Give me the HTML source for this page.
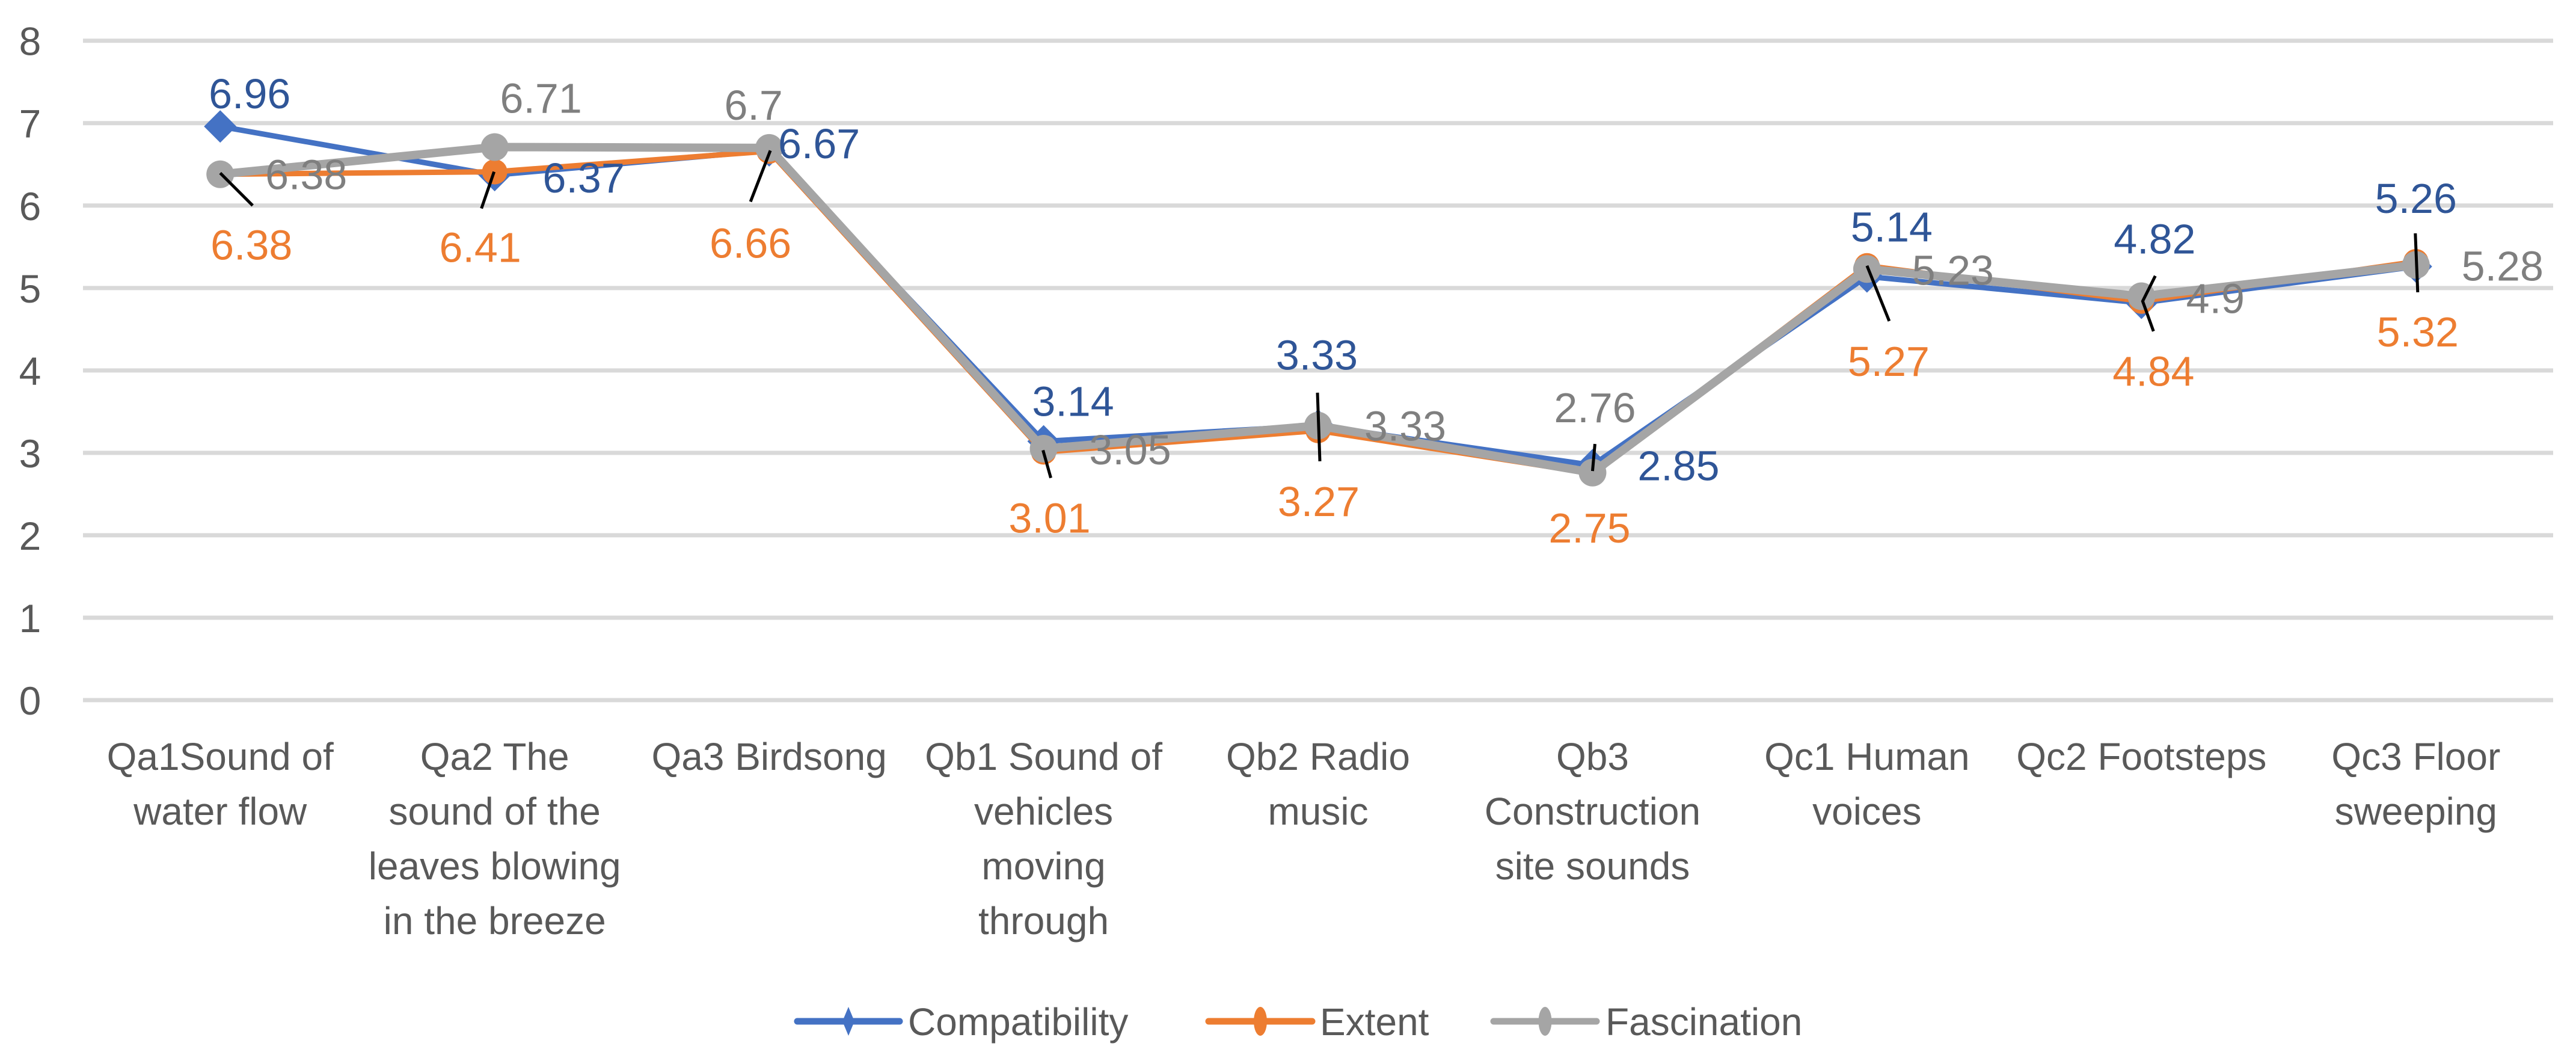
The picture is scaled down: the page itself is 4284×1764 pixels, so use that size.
<!DOCTYPE html>
<html><head><meta charset="utf-8">
<style>
html,body{margin:0;padding:0;background:#fff;}
svg{display:block;font-family:"Liberation Sans",sans-serif;}
</style></head>
<body>
<svg id="chart" width="4284" height="1764" viewBox="0 0 4284 1764" xmlns="http://www.w3.org/2000/svg">
<g id="grid"></g>
<g id="yticks"></g>
<g id="xticks"></g>
<g id="series"></g>
<g id="labels"></g>
<g id="legend"></g>
</svg>
<script>
const categories = [
  ["Qa1Sound of","water flow"],
  ["Qa2 The","sound of the","leaves blowing","in the breeze"],
  ["Qa3 Birdsong"],
  ["Qb1 Sound of","vehicles","moving","through"],
  ["Qb2 Radio","music"],
  ["Qb3","Construction","site sounds"],
  ["Qc1 Human","voices"],
  ["Qc2 Footsteps"],
  ["Qc3 Floor","sweeping"]
];
const compatibility = [6.96,6.37,6.67,3.14,3.33,2.85,5.14,4.82,5.26];
const extent = [6.38,6.41,6.66,3.01,3.27,2.75,5.27,4.84,5.32];
const fascination = [6.38,6.71,6.7,3.05,3.33,2.76,5.23,4.9,5.28];
const yTicks = [0,1,2,3,4,5,6,7,8];
const seriesNames = ["Compatibility","Extent","Fascination"];

const NS="http://www.w3.org/2000/svg";
const L=138,R=4246,Y0=1164,Y8=67.7;
const band=(R-L)/categories.length;
function xs(i){return L+band*(i+0.5);}
function ys(v){return Y0-(Y0-Y8)*v/8;}
function mk(tag,attrs,parent){const e=document.createElementNS(NS,tag);for(const k in attrs)e.setAttribute(k,attrs[k]);parent.appendChild(e);return e;}

const grid=document.getElementById('grid');
const yt=document.getElementById('yticks');
yTicks.forEach(t=>{
  const g=mk('line',{x1:L,x2:R,y1:ys(t),y2:ys(t),stroke:'#d9d9d9','stroke-width':7},grid);
  
  
  const tx=mk('text',{x:50,y:ys(t)+24,'text-anchor':'middle','font-size':66,fill:'#595959'},yt);
  tx.textContent=t;
  
  
});
const xt=document.getElementById('xticks');
categories.forEach((lines,i)=>{
  const t=mk('text',{x:xs(i),'text-anchor':'middle','font-size':64,fill:'#595959'},xt);
  
  
  lines.forEach((ln,j)=>{const s=mk('tspan',{x:xs(i),y:1280+j*91},t);s.textContent=ln;});
});

const ser=document.getElementById('series');
const colors=['#4472c4','#ed7d31','#a5a5a5'];
const widths=[9,9,14];
[compatibility,extent,fascination].forEach((arr,si)=>{
  const pts=arr.map((v,i)=>xs(i)+','+ys(v)).join(' ');
  const pl=mk('polyline',{points:pts,fill:'none',stroke:colors[si],'stroke-width':widths[si],'stroke-linejoin':'round'},ser);
  
  
  arr.forEach((v,i)=>{
    let m;
    if(si===0){const x=xs(i),y=ys(v),d=27;m=mk('polygon',{points:`${x},${y-d} ${x+d},${y} ${x},${y+d} ${x-d},${y}`,fill:colors[si]},ser);}
    else m=mk('circle',{cx:xs(i),cy:ys(v),r:si===2?23:21,fill:colors[si]},ser);
    
    
  });
});

// label center offsets relative to each marker
const offB=[[49,-55],[148,4],[83,-12],[49,-67],[-2,-118],[143,0],[41,-83],[22,-107],[0,-114]];
const offE=[[52,117],[-24,125],[-31,152],[10,109],[1,117],[-5,90],[36,158],[20,116],[3,116]];
const offG=[[143,0],[77,-82],[-26,-72],[144,1],[145,0],[4,-109],[143,1],[123,3],[144,1]];
// leader lines relative to extent marker position
const leaders=[[[0,-2],[54,52]],[[-1,0],[-22,61]],[[2,-1],[-31,84]],[[-1,-3],[12,43]],[[-1,-63],[3,51]],[[4,-49],[0,-4]],[[0,0],[37,92]],[[23,-42],[2,0],[20,50]],[[-1,-47],[3,51]]];
const lab=document.getElementById('labels');
leaders.forEach((p,i)=>{
  const bx=xs(i),by=ys(extent[i]);
  const pts=p.map(q=>(bx+q[0])+','+(by+q[1])).join(' ');
  const l=mk('polyline',{points:pts,fill:'none',stroke:'#000','stroke-width':5},lab);
  
  
});
const labColors=['#2f5597','#ed7d31','#7f7f7f'];
[[compatibility,offB],[extent,offE],[fascination,offG]].forEach(([arr,off],si)=>{
  arr.forEach((v,i)=>{
    const t=mk('text',{x:xs(i)+off[i][0],y:ys(v)+off[i][1]+25,'text-anchor':'middle','font-size':70,fill:labColors[si]},lab);
    t.textContent=String(v);
    
    
  });
});

const leg=document.getElementById('legend');
const legX=[[1326,1496,1510],[2010,2182,2195],[2484,2655,2670]];
seriesNames.forEach((n,si)=>{
  const g=mk('g',{},leg);
  
  
  const y=1698;
  mk('line',{x1:legX[si][0],x2:legX[si][1],y1:y,y2:y,stroke:colors[si],'stroke-width':11,'stroke-linecap':'round'},g);
  const cx=(legX[si][0]+legX[si][1])/2;
  if(si===0)mk('polygon',{points:`${cx},${y-24} ${cx+10},${y} ${cx},${y+24} ${cx-10},${y}`,fill:colors[si]},g);
  else mk('ellipse',{cx:cx,cy:y,rx:11,ry:24,fill:colors[si]},g);
  const t=mk('text',{x:legX[si][2],y:y+23,'font-size':64,fill:'#595959'},g);
  t.textContent=n;
});
</script>
</body></html>
